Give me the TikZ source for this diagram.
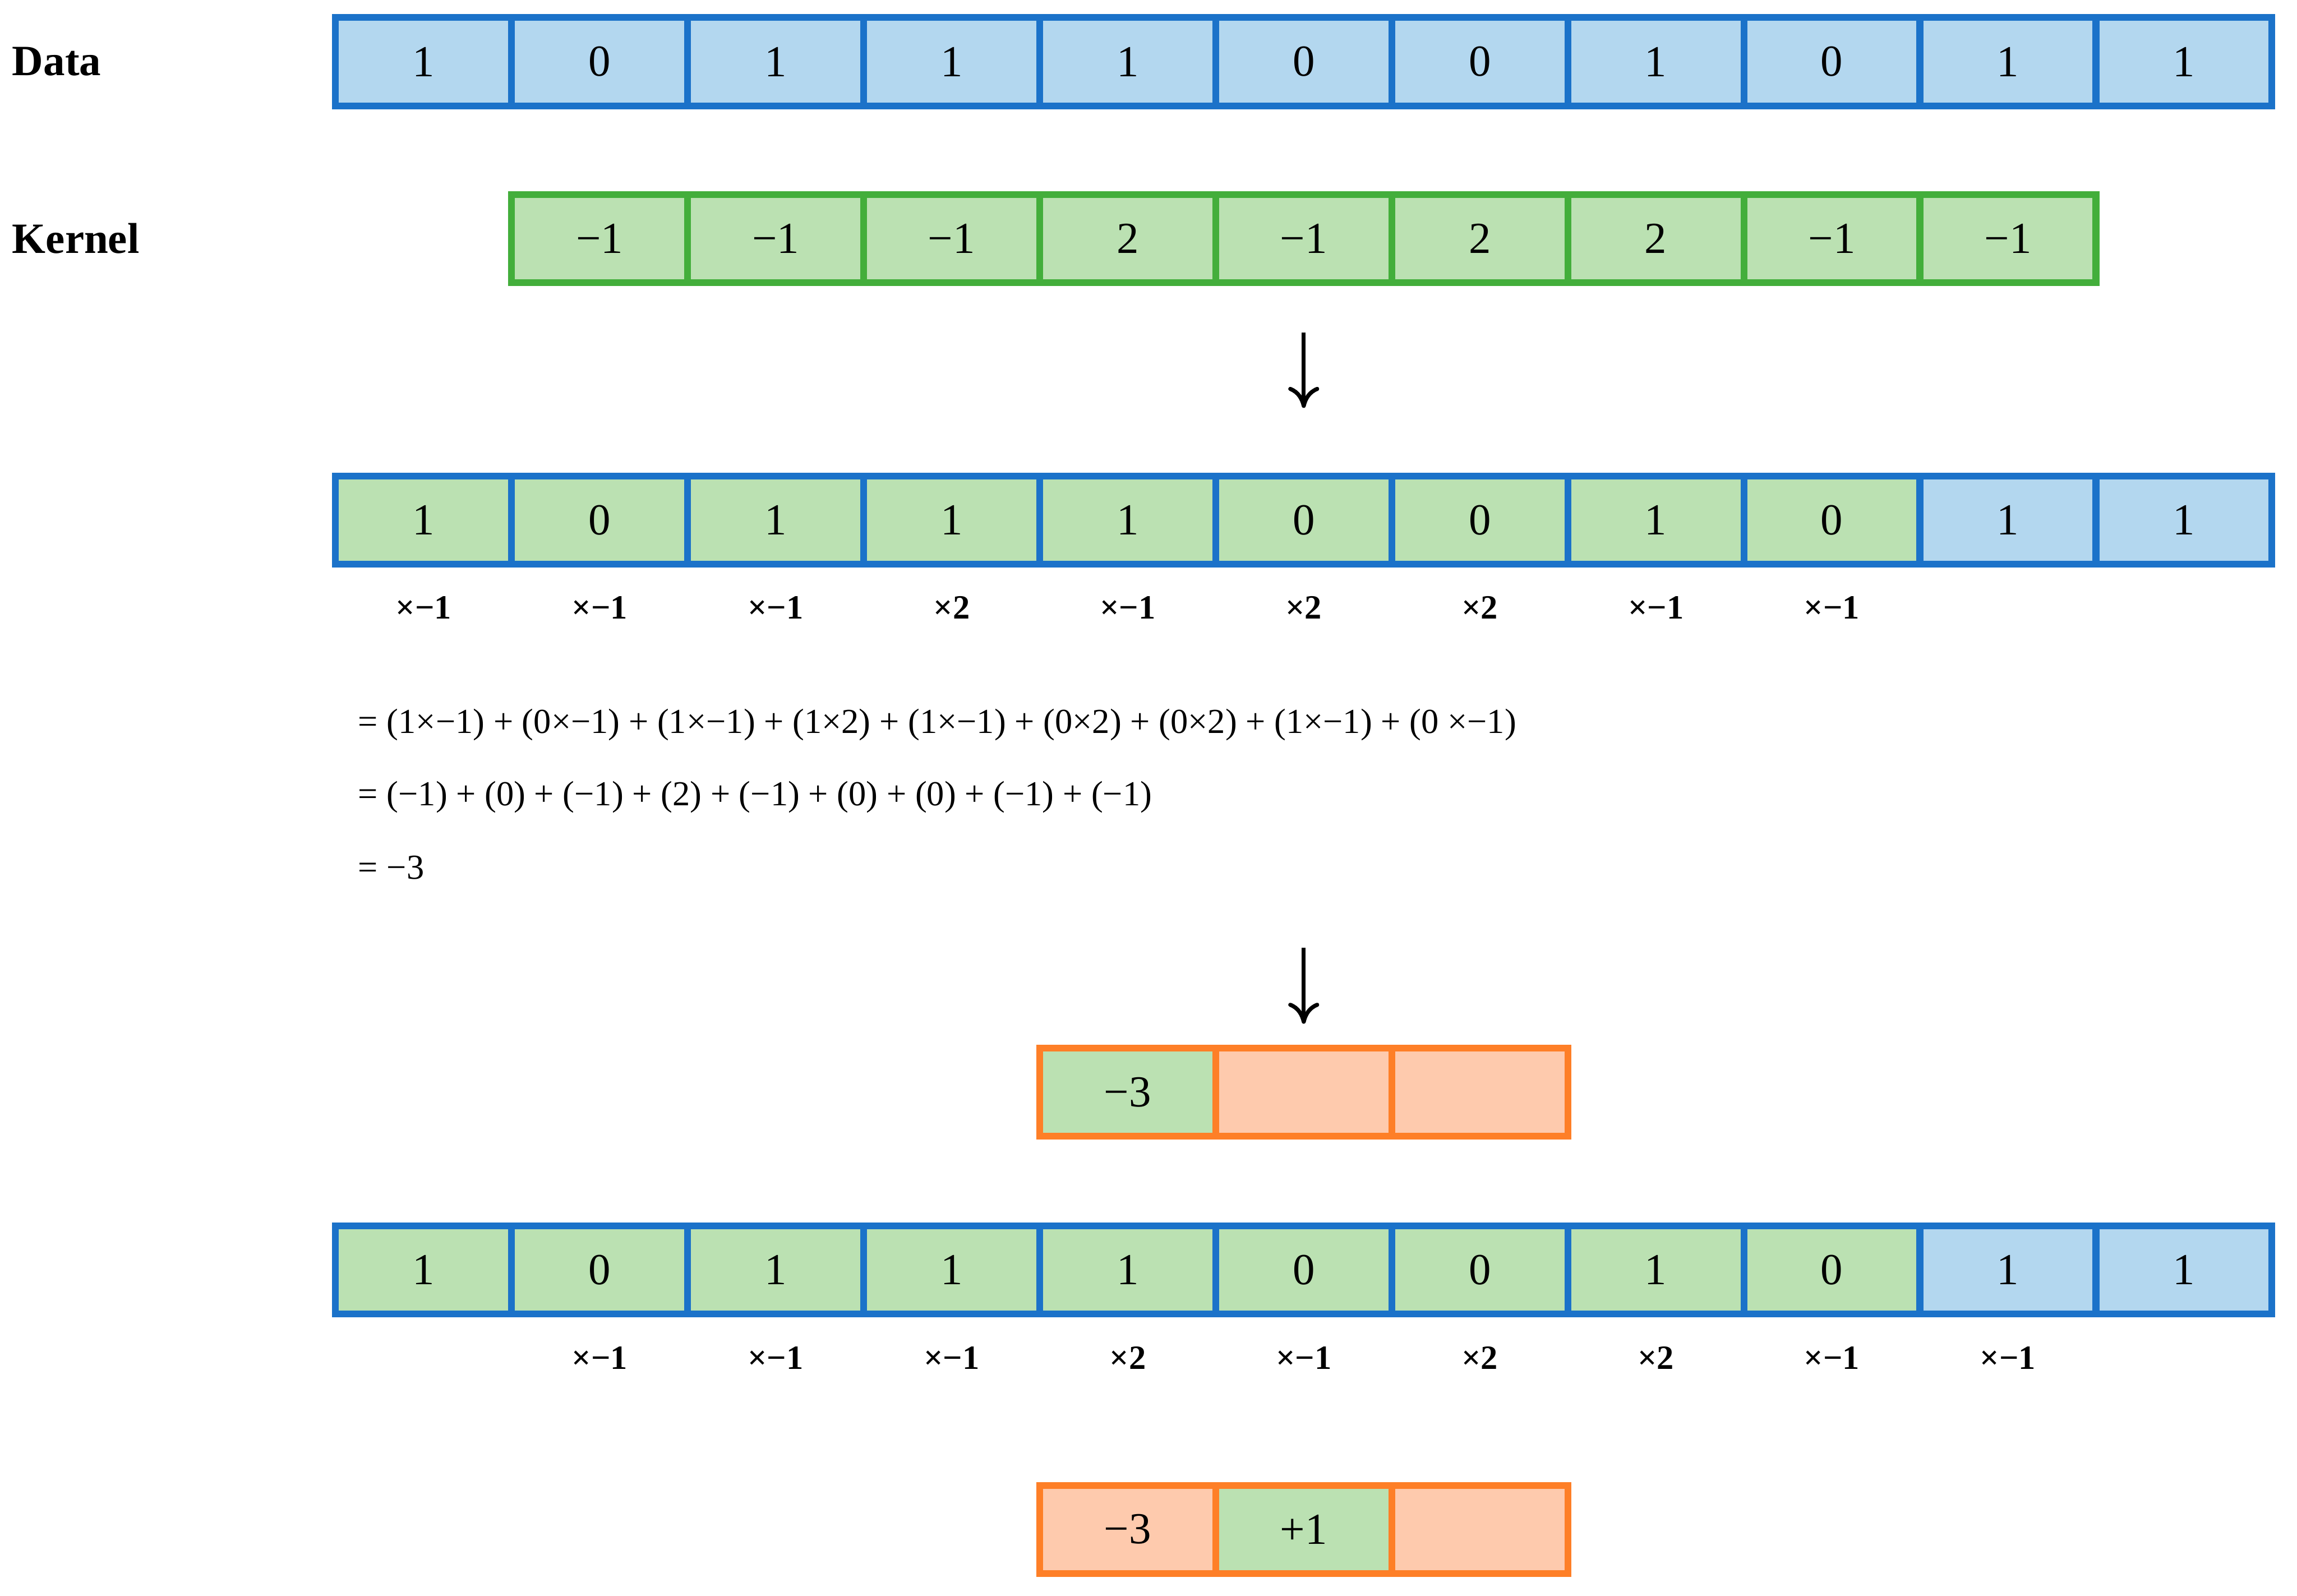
\documentclass[tikz,border=0pt]{standalone}
\usepackage{fontspec}
\setmainfont{Liberation Serif}
\usetikzlibrary{arrows.meta,positioning,fit}

\definecolor{dataline}{HTML}{1B72C9}
\definecolor{datafill}{HTML}{B3D7EF}
\definecolor{kernline}{HTML}{43AE3B}
\definecolor{kernfill}{HTML}{BBE1B2}
\definecolor{resline}{HTML}{FE7F27}
\definecolor{resfill}{HTML}{FECAAD}

\begin{document}
\begin{tikzpicture}[
    cell/.style={draw, line width=1.85pt, minimum width=1.6765cm, minimum height=0.84cm, inner sep=0pt, outer sep=0pt, font=\fontsize{12}{14}\selectfont},
    dcell/.style={cell, draw=dataline, fill=datafill},
    hcell/.style={cell, draw=dataline, fill=kernfill},
    kcell/.style={cell, draw=kernline, fill=kernfill},
    rcell/.style={cell, draw=resline, fill=resfill},
    rhcell/.style={cell, draw=resline, fill=kernfill},
    rowframe/.style={draw=#1, line width=1.85pt, inner sep=0pt, outer sep=0pt},
    lbl/.style={anchor=west, inner sep=0pt, font=\fontsize{11.7}{14}\selectfont\bfseries},
    mult/.style={inner sep=0pt, font=\fontsize{9.2}{11}\selectfont\bfseries},
    eqn/.style={anchor=west, inner sep=0pt, font=\fontsize{9.5}{11}\selectfont},
    arrow/.style={-{Computer Modern Rightarrow[length=5.7pt, width=8.4pt]}, line width=1.1pt}
  ]
    \useasboundingbox (0,0) rectangle (21.875,-15.195);

    \node[lbl] (datalbl) at (0.11,-0.5875) {Data};
    \node[lbl] (kernlbl) at (0.11,-2.2725) {Kernel};

    % data row
    \node[dcell] (a0) at (4.0333,-0.5875) {1};
    \foreach \v [count=\i, remember=\i as \p (initially 0)] in {0,1,1,1,0,0,1,0,1,1}
      \node[dcell, right=0pt of a\p] (a\i) {\v};
    \node[rowframe=dataline, fit=(a0)(a10)] (aframe) {};

    % kernel row
    \node[kcell] (k1) at (a1 |- 0,-2.2725) {−1};
    \foreach \v [count=\i from 2, remember=\i as \p (initially 1)] in {−1,−1,2,−1,2,2,−1,−1}
      \node[kcell, right=0pt of k\p] (k\i) {\v};
    \node[rowframe=kernline, fit=(k1)(k9)] (kframe) {};

    % first position
    \node[hcell] (c0) at (a0 |- 0,-4.9525) {1};
    \foreach \v/\s [count=\i, remember=\i as \p (initially 0)] in {0/hcell,1/hcell,1/hcell,1/hcell,0/hcell,0/hcell,1/hcell,0/hcell,1/dcell,1/dcell}
      \node[\s, right=0pt of c\p] (c\i) {\v};
    \node[rowframe=dataline, fit=(c0)(c10)] (cframe) {};
    \foreach \m [count=\i from 0] in {×−1,×−1,×−1,×2,×−1,×2,×2,×−1,×−1}
      \node[mult] (mc\i) at ([yshift=-0.836cm]c\i.center) {\m};

    \node[eqn] (eq1) at (3.405,-6.905) {= (1×−1) + (0×−1) + (1×−1) + (1×2) + (1×−1) + (0×2) + (0×2) + (1×−1) + (0 ×−1)};
    \node[eqn] (eq2) at (3.405,-7.59) {= (−1) + (0) + (−1) + (2) + (−1) + (0) + (0) + (−1) + (−1)};
    \node[eqn] (eq3) at (3.405,-8.26) {= −3};

    \draw[arrow, shorten <=0.4725cm, shorten >=0.6475cm] (k5.south) -- (c5.north);

    % first output
    \node[rhcell] (p0) at (a4 |- 0,-10.40) {−3};
    \node[rcell, right=0pt of p0] (p1) {};
    \node[rcell, right=0pt of p1] (p2) {};
    \node[rowframe=resline, fit=(p0)(p2)] (pframe) {};

    \coordinate (sumend) at (c5 |- 0,-9.025);
    \draw[arrow, shorten >=0.23cm] (sumend) -- (p1.north);

    % second position
    \node[hcell] (e0) at (a0 |- 0,-12.095) {1};
    \foreach \v/\s [count=\i, remember=\i as \p (initially 0)] in {0/hcell,1/hcell,1/hcell,1/hcell,0/hcell,0/hcell,1/hcell,0/hcell,1/dcell,1/dcell}
      \node[\s, right=0pt of e\p] (e\i) {\v};
    \node[rowframe=dataline, fit=(e0)(e10)] (eframe) {};
    \foreach \m [count=\i from 1] in {×−1,×−1,×−1,×2,×−1,×2,×2,×−1,×−1}
      \node[mult] (me\i) at ([yshift=-0.836cm]e\i.center) {\m};

    % second output
    \node[rcell] (q0) at (a4 |- 0,-14.565) {−3};
    \node[rhcell, right=0pt of q0] (q1) {+1};
    \node[rcell, right=0pt of q1] (q2) {};
    \node[rowframe=resline, fit=(q0)(q2)] (qframe) {};
  \end{tikzpicture}
\end{document}
